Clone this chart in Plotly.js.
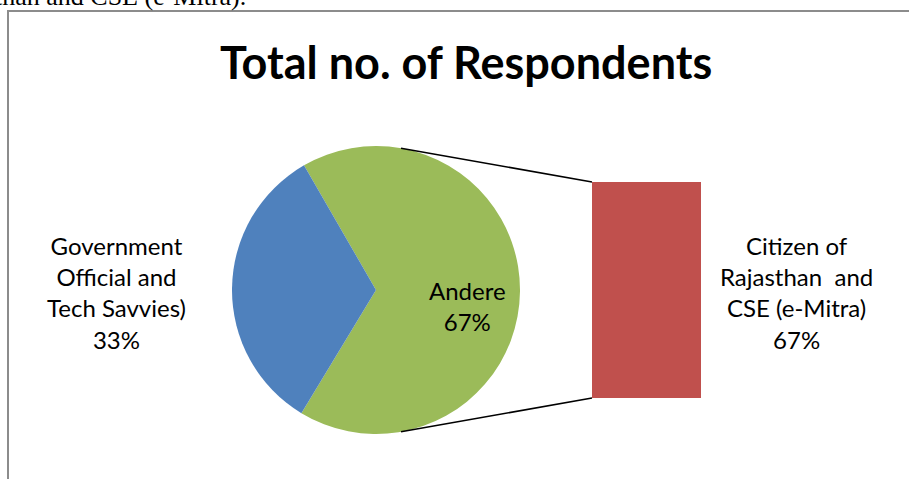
<!DOCTYPE html>
<html><head><meta charset="utf-8">
<script src="https://cdn.plot.ly/plotly-3.0.1.min.js"></script>
<style>html,body{margin:0;padding:0;background:#fff;overflow:hidden}#chart{width:909px;height:479px}</style>
</head><body><div id="chart"></div>
<script>
// ---- data ----
const sliceLabels = ['Andere', 'Government<br>Official and<br>Tech Savvies)'];
const sliceValues = [67, 33];
const sliceColors = ['#9BBB59', '#4F81BD'];
const barLabels = ['Citizen of<br>Rajasthan  and<br>CSE (e-Mitra)'];
const barValues = [67];
const titleText = 'Total no. of Respondents';
const captionText = 'than and CSE (e-Mitra).';

// ---- geometry (layout only) ----
const W = 909, H = 479;
const cx = 376, cy = 290, R = 144;
const px = v => v / W, py = v => (H - v) / H;
const barX0 = 592, barX1 = 701, barY0 = 182, barY1 = 398;

const total = sliceValues.reduce((a, b) => a + b, 0);
const pct = v => Math.round(v / total * 100) + '%';

const pie = {
  type: 'pie',
  values: sliceValues,
  labels: sliceLabels.map(s => s.replace(/<br>/g, ' ')),
  marker: {colors: sliceColors, line: {width: 0}},
  sort: false,
  direction: 'clockwise',
  rotation: -30,
  textinfo: 'none',
  hoverinfo: 'label+percent',
  showlegend: false,
  domain: {x: [px(cx - R), px(cx + R)], y: [py(cy + R), py(cy - R)]}
};

const bar = {
  type: 'bar',
  x: [0],
  y: barValues,
  width: [1],
  marker: {color: '#C0504D', line: {width: 0}},
  xaxis: 'x', yaxis: 'y',
  showlegend: false,
  hoverinfo: 'y'
};

const a = Math.asin(25 / R);
const pTop = [cx + R * Math.sin(a), cy - R * Math.cos(a)];
const pBot = [cx + R * Math.sin(a), cy + R * Math.cos(a)];

const font = 'Lato, "Open Sans", sans-serif';
const layout = {
  width: W, height: H,
  margin: {l: 0, r: 0, t: 0, b: 0},
  paper_bgcolor: '#fff', plot_bgcolor: 'rgba(0,0,0,0)',
  xaxis: {domain: [px(barX0), px(barX1)], range: [-0.5, 0.5], visible: false, fixedrange: true},
  yaxis: {domain: [py(barY1), py(barY0)], range: [0, barValues[0]], visible: false, fixedrange: true},
  shapes: [
    {type: 'rect', xref: 'paper', yref: 'paper', x0: px(8), x1: px(W + 20), y0: py(H + 20), y1: py(11),
     line: {color: '#8c8c8c', width: 2}, layer: 'below'},
    {type: 'line', xref: 'paper', yref: 'paper', x0: px(pTop[0]), y0: py(pTop[1]), x1: px(barX0), y1: py(barY0),
     line: {color: '#000', width: 1.5}},
    {type: 'line', xref: 'paper', yref: 'paper', x0: px(pBot[0]), y0: py(pBot[1]), x1: px(barX0), y1: py(barY1),
     line: {color: '#000', width: 1.5}}
  ],
  annotations: [
    {text: captionText, xref: 'paper', yref: 'paper', x: px(-7), xanchor: 'left', y: py(-4), yanchor: 'middle',
     showarrow: false, font: {family: '"Liberation Serif", serif', size: 26, color: '#000'}},
    {text: '<b>' + titleText + '</b>', xref: 'paper', yref: 'paper', x: px(466), y: py(62), xanchor: 'center', yanchor: 'middle',
     showarrow: false, font: {family: font, size: 45, color: '#000'}},
    {text: sliceLabels[1] + '<br>' + pct(sliceValues[1]), xref: 'paper', yref: 'paper', x: px(116), y: py(292),
     xanchor: 'center', yanchor: 'middle', showarrow: false, font: {family: font, size: 24, color: '#000'}},
    {text: sliceLabels[0] + '<br>' + pct(sliceValues[0]), xref: 'paper', yref: 'paper', x: px(467), y: py(306),
     xanchor: 'center', yanchor: 'middle', showarrow: false, font: {family: font, size: 24, color: '#000'}},
    {text: barLabels[0] + '<br>' + pct(barValues[0]), xref: 'paper', yref: 'paper', x: px(796), y: py(292),
     xanchor: 'center', yanchor: 'middle', showarrow: false, font: {family: font, size: 24, color: '#000'}}
  ]
};

Plotly.newPlot('chart', [pie, bar], layout, {staticPlot: true, displayModeBar: false});
</script></body></html>
